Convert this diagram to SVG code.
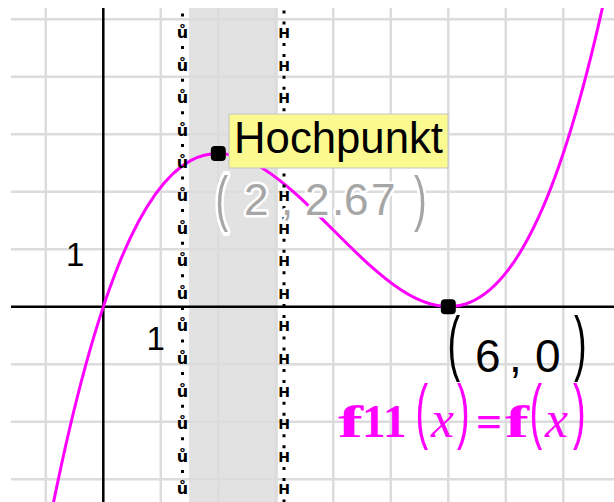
<svg xmlns="http://www.w3.org/2000/svg" width="614" height="502" viewBox="0 0 614 502">
<style>
.grid{stroke:#dcdcdc;stroke-width:2.5;fill:none}
.axis{stroke:#000;stroke-width:2.5;fill:none}
.curve{stroke:#ff00ff;stroke-width:3;fill:none}
.sans{font-family:"Liberation Sans",Arial,sans-serif}
.serif{font-family:"Liberation Serif","Times New Roman",serif}
.mk{font-family:"DejaVu Sans",sans-serif;font-weight:bold;fill:#000;text-anchor:middle}
.gray{fill:#a6a6a6;stroke:#fff;stroke-width:5;paint-order:stroke;stroke-linejoin:round}
.mag{fill:#ff00ff}
.dot{fill:#000}
</style>
<defs>
<clipPath id="plot"><rect x="11" y="8" width="603" height="494"/></clipPath>
</defs>
<rect width="614" height="502" fill="#fff"/>
<g id="plotarea" clip-path="url(#plot)">
<rect id="strip" x="189" y="8" width="89" height="494" fill="#e2e2e2"/>
<g id="grid" class="grid">
<path d="M45.8 8V502M160.8 8V502M218.3 8V502M275.8 8V502M333.3 8V502M390.8 8V502M448.3 8V502M505.8 8V502M563.3 8V502"/>
<path d="M11 19.2H614M11 76.7H614M11 134.2H614M11 191.7H614M11 249.2H614M11 364.2H614M11 421.7H614M11 479.2H614"/>
</g>
<g id="axes" class="axis">
<path d="M11 306.7H614M103.3 8V502"/>
</g>
<g id="connectors">
<path id="f11" class="curve" d="M48.7 526.6C234.6 -426.4 420.5 852.4 606.4 -10.4"/>
</g>
<g id="bound-a">
<line x1="182.5" y1="13.5" x2="182.5" y2="502" stroke="#000" stroke-width="3" stroke-dasharray="3 29.6"/>
<text class="mk" font-size="16" x="182.5 182.5 182.5 182.5 182.5 182.5 182.5 182.5 182.5 182.5 182.5 182.5 182.5 182.5 182.5" y="38 70.6 103.2 135.8 168.4 201 233.6 266.2 298.8 331.4 364 396.6 429.2 461.8 494.4">ůůůůůůůůůůůůůůů</text>
</g>
<g id="bound-b">
<line x1="284" y1="10.5" x2="284" y2="502" stroke="#000" stroke-width="3" stroke-dasharray="3 8 3 18.6"/>
<text class="mk" font-size="14" x="284 284 284 284 284 284 284 284 284 284 284 284 284 284 284" y="38 70.6 103.2 135.8 168.4 201 233.6 266.2 298.8 331.4 364 396.6 429.2 461.8 494.4">HHHHHHHHHHHHHHH</text>
</g>
</g>
<g id="tick-labels" class="sans" font-size="33">
<text x="66" y="266">1</text>
<text x="146.5" y="350">1</text>
</g>
<g id="label-max" class="sans gray" font-size="44">
<g transform="translate(215.6,232) scale(1,1.6)"><text x="0" y="-8" font-size="38">(</text></g>
<text x="244" y="215">2</text>
<text x="281" y="215">,</text>
<text x="305 332 344 371" y="215">2.67</text>
<g transform="translate(414,232) scale(1,1.6)"><text x="0" y="-8" font-size="38">)</text></g>
</g>
<g id="hochpunkt">
<rect x="229" y="114" width="219" height="54" fill="#fafa90" stroke="#c4c4c4" stroke-width="1"/>
<text class="sans" x="234" y="153" font-size="43.5" fill="#000" textLength="209" lengthAdjust="spacingAndGlyphs">Hochpunkt</text>
</g>
<g id="label-min" class="sans" font-size="46" fill="#000">
<g transform="translate(447.6,382) scale(1,1.88)"><text x="0" y="-8" font-size="38">(</text></g>
<text x="475" y="372">6</text>
<text x="509" y="372">,</text>
<text x="535" y="372">0</text>
<g transform="translate(574,382) scale(1,1.88)"><text x="0" y="-8" font-size="38">)</text></g>
</g>
<g id="legend" class="mag">
<text class="serif" font-weight="bold" font-size="47" x="338" y="437" textLength="25" lengthAdjust="spacingAndGlyphs">f</text>
<text class="serif" font-weight="bold" font-size="47" x="362 383" y="437">11</text>
<g class="sans" transform="translate(415.6,450) scale(1,1.88)"><text x="0" y="-8" font-size="38">(</text></g>
<text class="serif" font-style="italic" font-size="52" x="431" y="437">x</text>
<g class="sans" transform="translate(457,450) scale(1,1.88)"><text x="0" y="-8" font-size="38">)</text></g>
<text class="serif" font-weight="bold" font-size="46" x="476" y="437">=</text>
<text class="serif" font-weight="bold" font-size="47" x="505" y="437" textLength="24" lengthAdjust="spacingAndGlyphs">f</text>
<g class="sans" transform="translate(529.6,450) scale(1,1.88)"><text x="0" y="-8" font-size="38">(</text></g>
<text class="serif" font-style="italic" font-size="52" x="545" y="437">x</text>
<g class="sans" transform="translate(573,450) scale(1,1.88)"><text x="0" y="-8" font-size="38">)</text></g>
</g>
<g id="point-max"><rect class="dot" x="210.8" y="145.9" width="15" height="15" rx="4"/></g>
<g id="point-min"><rect class="dot" x="440.8" y="299.2" width="15" height="15" rx="4"/></g>
</svg>
